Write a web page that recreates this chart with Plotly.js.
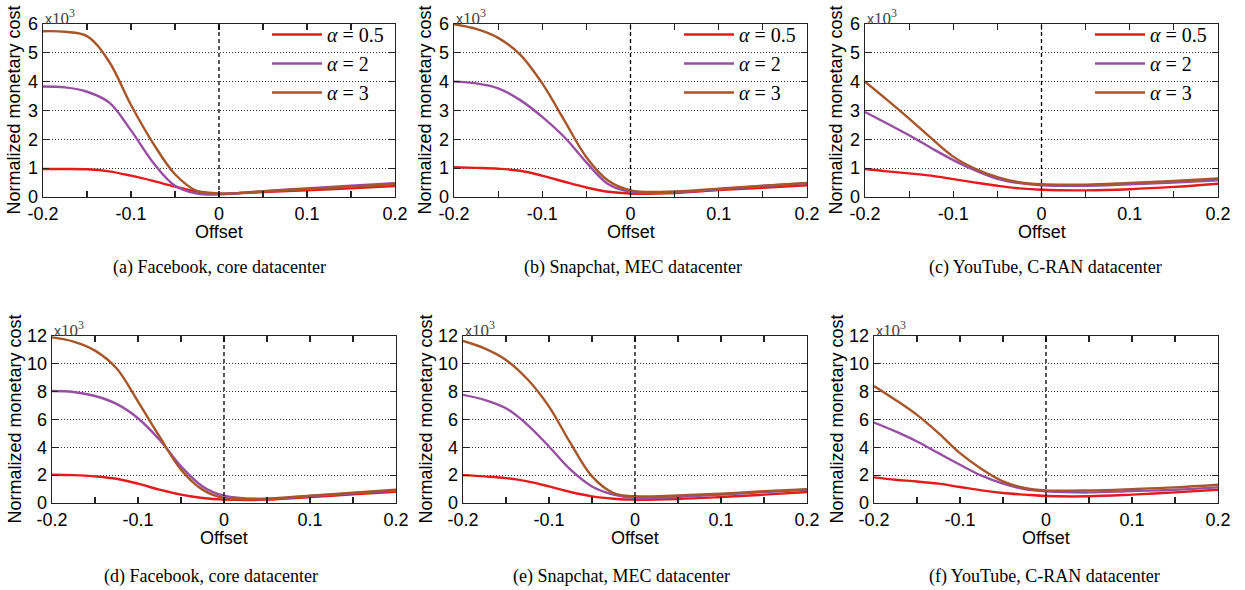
<!DOCTYPE html>
<html>
<head>
<meta charset="utf-8">
<script src="https://cdn.plot.ly/plotly-3.0.1.min.js"></script>
<style>html,body{margin:0;padding:0;background:#fff;}#chart{width:1245px;height:590px;}</style>
</head>
<body>
<div id="chart"></div>
<script>
// ---- data (values in units of 10^3) ----
const offset = [-0.2,-0.175,-0.15,-0.125,-0.1,-0.075,-0.05,-0.025,0,0.05,0.1,0.15,0.2];
const seriesNames = ['<i>α</i> = 0.5', '<i>α</i> = 2', '<i>α</i> = 3'];
const seriesColors = ['#e41a1c', '#984ea3', '#a65628'];

// (a) Facebook, core datacenter
const fbTopA05 = [0.97,0.97,0.96,0.89,0.74,0.56,0.36,0.19,0.12,0.17,0.23,0.30,0.38];
const fbTopA2  = [3.83,3.80,3.65,3.28,2.31,1.20,0.39,0.12,0.09,0.20,0.30,0.39,0.48];
const fbTopA3  = [5.75,5.73,5.58,4.70,3.19,1.87,0.79,0.21,0.12,0.19,0.28,0.36,0.45];
// (b) Snapchat, MEC datacenter
const scTopA05 = [1.03,1.01,0.98,0.91,0.74,0.53,0.33,0.18,0.12,0.14,0.24,0.32,0.41];
const scTopA2  = [4.00,3.94,3.77,3.36,2.78,2.08,1.20,0.44,0.18,0.17,0.27,0.38,0.48];
const scTopA3  = [5.99,5.83,5.52,4.94,3.94,2.66,1.38,0.56,0.23,0.19,0.29,0.39,0.49];
// (c) YouTube, C-RAN datacenter
const ytTopA05 = [0.97,0.89,0.82,0.74,0.62,0.50,0.39,0.30,0.25,0.23,0.27,0.35,0.46];
const ytTopA2  = [2.95,2.55,2.14,1.70,1.28,0.92,0.63,0.48,0.41,0.39,0.44,0.50,0.58];
const ytTopA3  = [4.00,3.37,2.72,2.04,1.40,0.98,0.69,0.51,0.44,0.43,0.49,0.56,0.64];
// (d) Facebook, core datacenter
const fbBotA05 = [2.03,2.00,1.91,1.74,1.39,0.96,0.60,0.36,0.24,0.24,0.43,0.62,0.81];
const fbBotA2  = [8.05,7.98,7.69,7.12,6.09,4.54,2.63,1.19,0.53,0.29,0.50,0.70,0.90];
const fbBotA3  = [11.9,11.6,10.95,9.68,7.29,4.78,2.39,0.96,0.36,0.31,0.53,0.74,0.95];
// (e) Snapchat, MEC datacenter
const scBotA05 = [2.00,1.91,1.79,1.55,1.19,0.79,0.48,0.31,0.24,0.29,0.43,0.60,0.79];
const scBotA2  = [7.77,7.41,6.81,5.62,4.06,2.39,1.19,0.60,0.36,0.43,0.60,0.78,0.95];
const scBotA3  = [11.64,11.11,10.28,8.89,6.93,4.30,1.91,0.72,0.48,0.55,0.67,0.84,1.00];
// (f) YouTube, C-RAN datacenter
const ytBotA05 = [1.84,1.67,1.55,1.39,1.15,0.91,0.72,0.60,0.50,0.48,0.60,0.76,0.95];
const ytBotA2  = [5.78,5.14,4.42,3.58,2.75,1.96,1.39,1.00,0.84,0.76,0.86,0.95,1.12];
const ytBotA3  = [8.41,7.41,6.33,5.02,3.58,2.44,1.55,1.08,0.91,0.91,1.00,1.12,1.31];

const xTickVals = [-0.2,-0.1,0,0.1,0.2];
const xTickText = ['-0.2','-0.1','0','0.1','0.2'];
const xMinorVals = [-0.15,-0.05,0.05,0.15];
const yTickValsTop = [0,1,2,3,4,5,6];
const yTickValsBot = [0,2,4,6,8,10,12];
const subtitles = ['(a) Facebook, core datacenter','(b) Snapchat, MEC datacenter','(c) YouTube, C-RAN datacenter',
                   '(d) Facebook, core datacenter','(e) Snapchat, MEC datacenter','(f) YouTube, C-RAN datacenter'];

// ---- layout geometry (pixels) ----
const W = 1245, H = 590;
const panels = [
  {data:[fbTopA05,fbTopA2,fbTopA3], x0:43,  x1:395,  y0:24,  y1:197, ymax:6,  ticks:yTickValsTop, legend:'legend',  subX:219,  subY:268},
  {data:[scTopA05,scTopA2,scTopA3], x0:454, x1:807,  y0:24,  y1:197, ymax:6,  ticks:yTickValsTop, legend:'legend2', subX:633,  subY:268},
  {data:[ytTopA05,ytTopA2,ytTopA3], x0:865, x1:1218, y0:24,  y1:197, ymax:6,  ticks:yTickValsTop, legend:'legend3', subX:1045, subY:268},
  {data:[fbBotA05,fbBotA2,fbBotA3], x0:52,  x1:396,  y0:336, y1:503, ymax:12, ticks:yTickValsBot, legend:null, subX:211,  subY:576},
  {data:[scBotA05,scBotA2,scBotA3], x0:463, x1:807,  y0:336, y1:503, ymax:12, ticks:yTickValsBot, legend:null, subX:621,  subY:576},
  {data:[ytBotA05,ytBotA2,ytBotA3], x0:874, x1:1218, y0:336, y1:503, ymax:12, ticks:yTickValsBot, legend:null, subX:1044, subY:576}
];

const traces = [];
const layout = {
  width: W, height: H,
  margin: {l:0, r:0, t:0, b:0},
  paper_bgcolor: '#fff', plot_bgcolor: '#fff',
  font: {family: 'Liberation Sans, Arial, sans-serif', size: 18, color: '#000'},
  shapes: [], annotations: []
};

panels.forEach((p, i) => {
  const n = i + 1;
  const xa = n === 1 ? 'xaxis' : 'xaxis' + n;
  const ya = n === 1 ? 'yaxis' : 'yaxis' + n;
  const xr = n === 1 ? 'x' : 'x' + n;
  const yr = n === 1 ? 'y' : 'y' + n;

  p.data.forEach((vals, k) => {
    const t = {
      type: 'scatter', mode: 'lines', x: offset, y: vals,
      name: seriesNames[k], xaxis: xr, yaxis: yr,
      line: {color: seriesColors[k], width: 2.4, shape: 'spline', smoothing: 1},
      showlegend: !!p.legend, hoverinfo: 'skip'
    };
    if (p.legend) t.legend = p.legend;
    traces.push(t);
  });

  const common = {
    showline: true, mirror: 'ticks', linecolor: '#222', linewidth: 1.4,
    ticks: 'inside', ticklen: 6, tickwidth: 1.2, tickcolor: '#222',
    zeroline: false, fixedrange: true,
    tickfont: {family: 'Liberation Sans, Arial, sans-serif', size: 18, color: '#000'}
  };
  layout[xa] = Object.assign({}, common, {
    domain: [p.x0 / W, p.x1 / W], anchor: yr, range: [-0.2, 0.2],
    tickmode: 'array', tickvals: xTickVals, ticktext: xTickText, showgrid: false,
    minor: {tickmode: 'array', tickvals: xMinorVals, ticks: 'inside', ticklen: 6, tickwidth: 1.2, tickcolor: '#222', showgrid: false}
  });
  layout[ya] = Object.assign({}, common, {
    domain: [1 - p.y1 / H, 1 - p.y0 / H], anchor: xr, range: [0, p.ymax],
    tickmode: 'array', tickvals: p.ticks, ticktext: p.ticks.map(String),
    showgrid: true, gridcolor: '#333', griddash: '1px,2px', gridwidth: 1
  });

  // dashed vertical line at offset 0
  layout.shapes.push({type:'line', xref: xr, yref: yr + ' domain', x0:0, x1:0, y0:0, y1:1,
    line:{color:'#000', width:1.3, dash:'4px,3px'}, layer:'above'});

  const cx = (p.x0 + p.x1) / 2 / W;
  // x-axis title
  layout.annotations.push({xref:'paper', yref:'paper', x: cx, y: 1 - (p.y1 + 35) / H,
    text:'Offset', showarrow:false, xanchor:'center', yanchor:'middle',
    font:{family:'Liberation Sans, Arial, sans-serif', size:18, color:'#000'}});
  // y-axis title
  const yTitleX = i < 3 ? p.x0 - 30 : p.x0 - 37;
  layout.annotations.push({xref:'paper', yref:'paper', x: yTitleX / W, y: 1 - ((p.y0 + p.y1) / 2) / H,
    text:'Normalized monetary cost', textangle:-90, showarrow:false, xanchor:'center', yanchor:'middle',
    font:{family:'Liberation Sans, Arial, sans-serif', size:18, color:'#000'}});
  // x10^3 multiplier
  layout.annotations.push({xref:'paper', yref:'paper', x: p.x0 / W, y: 1 - (p.y0 - 7) / H,
    text:"x<span style='font-family:Liberation Serif, Times New Roman, serif;font-size:17px'>10<sup>3</sup></span>",
    showarrow:false, xanchor:'left', yanchor:'middle',
    font:{family:'Liberation Sans, Arial, sans-serif', size:14, color:'#444'}});
  // subtitle
  layout.annotations.push({xref:'paper', yref:'paper', x: p.subX / W, y: 1 - p.subY / H,
    text: subtitles[i], showarrow:false, xanchor:'center', yanchor:'middle',
    font:{family:'Liberation Serif, Times New Roman, serif', size:18, color:'#000'}});

  if (p.legend) {
    layout[p.legend] = {
      x: (p.x1 - 128) / W, y: 1 - (p.y0 - 9) / H, xanchor:'left', yanchor:'top',
      xref:'paper', yref:'paper',
      bgcolor:'rgba(0,0,0,0)', borderwidth:0,
      font:{family:'Liberation Serif, Times New Roman, serif', size:20, color:'#000'},
      tracegroupgap:0, itemwidth:50
    };
  }
});

Plotly.newPlot('chart', traces, layout, {displayModeBar:false, staticPlot:true});
</script>
</body>
</html>
